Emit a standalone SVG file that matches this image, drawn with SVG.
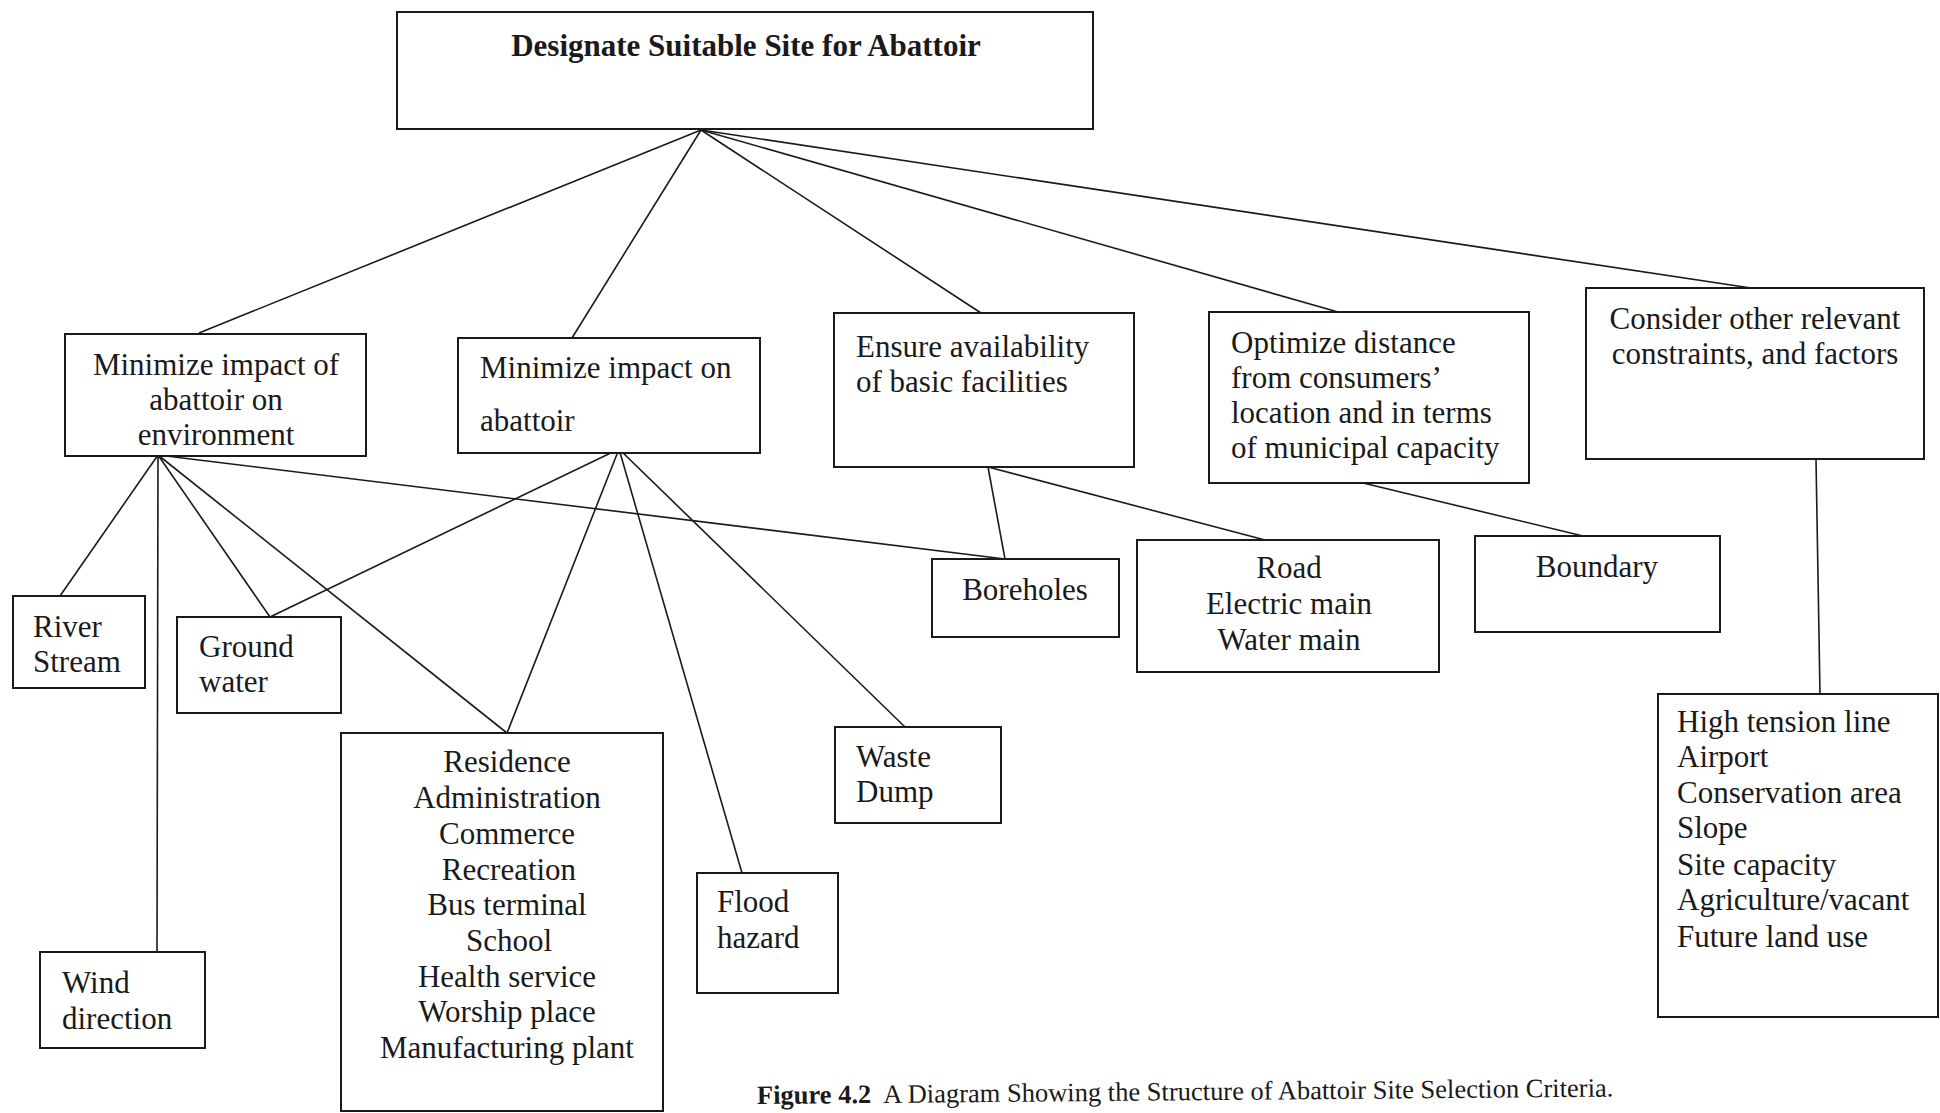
<svg xmlns="http://www.w3.org/2000/svg" width="1940" height="1113" viewBox="0 0 1940 1113">
<style>
.box{fill:#fff;stroke:#1a1a1a;stroke-width:2}
.t{font-family:"Liberation Serif","Times New Roman",serif;font-size:31px;fill:#1a1a1a}
.m{text-anchor:middle}
.c{stroke:#1a1a1a;stroke-width:1.6;fill:none}
.cap{font-family:"Liberation Serif","Times New Roman",serif;font-size:26.5px;fill:#1a1a1a}
</style>
<rect width="1940" height="1113" fill="#fff"/>
<g id="connectors">
<line class="c" x1="701" y1="130" x2="199" y2="333"/>
<line class="c" x1="701" y1="130" x2="572" y2="338"/>
<line class="c" x1="701" y1="130" x2="981" y2="313"/>
<line class="c" x1="701" y1="130" x2="1338" y2="312"/>
<line class="c" x1="701" y1="130" x2="1751" y2="288"/>
<line class="c" x1="158" y1="455" x2="60" y2="596"/>
<line class="c" x1="158" y1="455" x2="157" y2="952"/>
<line class="c" x1="158" y1="455" x2="270" y2="617"/>
<line class="c" x1="158" y1="455" x2="507" y2="733"/>
<line class="c" x1="158" y1="455" x2="1005" y2="559"/>
<line class="c" x1="619" y1="449" x2="270" y2="617"/>
<line class="c" x1="619" y1="449" x2="507" y2="733"/>
<line class="c" x1="619" y1="449" x2="742" y2="873"/>
<line class="c" x1="619" y1="449" x2="905" y2="727"/>
<line class="c" x1="988" y1="467" x2="1005" y2="559"/>
<line class="c" x1="988" y1="467" x2="1265" y2="540"/>
<line class="c" x1="1363" y1="483" x2="1583" y2="536"/>
<line class="c" x1="1816" y1="459" x2="1820" y2="694"/>
</g>
<g id="root">
<rect class="box" x="397" y="12" width="696" height="117"/>
<text class="t m" x="746" y="56" style="font-weight:bold">Designate Suitable Site for Abattoir</text>
</g>
<g id="env">
<rect class="box" x="65" y="334" width="301" height="122"/>
<text class="t m" x="216" y="375">Minimize impact of</text>
<text class="t m" x="216" y="410">abattoir on</text>
<text class="t m" x="216" y="445">environment</text>
</g>
<g id="onabattoir">
<rect class="box" x="458" y="338" width="302" height="115"/>
<text class="t" x="480" y="378">Minimize impact on</text>
<text class="t" x="480" y="431">abattoir</text>
</g>
<g id="facilities">
<rect class="box" x="834" y="313" width="300" height="154"/>
<text class="t" x="856" y="357">Ensure availability</text>
<text class="t" x="856" y="392">of basic facilities</text>
</g>
<g id="distance">
<rect class="box" x="1209" y="312" width="320" height="171"/>
<text class="t" x="1231" y="353">Optimize distance</text>
<text class="t" x="1231" y="388">from consumers’</text>
<text class="t" x="1231" y="423">location and in terms</text>
<text class="t" x="1231" y="458">of municipal capacity</text>
</g>
<g id="other">
<rect class="box" x="1586" y="288" width="338" height="171"/>
<text class="t m" x="1755" y="329">Consider other relevant</text>
<text class="t m" x="1755" y="364">constraints, and factors</text>
</g>
<g id="river">
<rect class="box" x="13" y="596" width="132" height="92"/>
<text class="t" x="33" y="637">River</text>
<text class="t" x="33" y="672">Stream</text>
</g>
<g id="ground">
<rect class="box" x="177" y="617" width="164" height="96"/>
<text class="t" x="199" y="657">Ground</text>
<text class="t" x="199" y="692">water</text>
</g>
<g id="wind">
<rect class="box" x="40" y="952" width="165" height="96"/>
<text class="t" x="62" y="993">Wind</text>
<text class="t" x="62" y="1029">direction</text>
</g>
<g id="landuse">
<rect class="box" x="341" y="733" width="322" height="378"/>
<text class="t m" x="507" y="772">Residence</text>
<text class="t m" x="507" y="808">Administration</text>
<text class="t m" x="507" y="844">Commerce</text>
<text class="t m" x="509" y="880">Recreation</text>
<text class="t m" x="507" y="915">Bus terminal</text>
<text class="t m" x="509" y="951">School</text>
<text class="t m" x="507" y="987">Health service</text>
<text class="t m" x="507" y="1022">Worship place</text>
<text class="t m" x="507" y="1058">Manufacturing plant</text>
</g>
<g id="flood">
<rect class="box" x="697" y="873" width="141" height="120"/>
<text class="t" x="717" y="912">Flood</text>
<text class="t" x="717" y="948">hazard</text>
</g>
<g id="waste">
<rect class="box" x="835" y="727" width="166" height="96"/>
<text class="t" x="856" y="767">Waste</text>
<text class="t" x="856" y="802">Dump</text>
</g>
<g id="boreholes">
<rect class="box" x="932" y="559" width="187" height="78"/>
<text class="t m" x="1025" y="600">Boreholes</text>
</g>
<g id="utilities">
<rect class="box" x="1137" y="540" width="302" height="132"/>
<text class="t m" x="1289" y="578">Road</text>
<text class="t m" x="1289" y="614">Electric main</text>
<text class="t m" x="1289" y="650">Water main</text>
</g>
<g id="boundary">
<rect class="box" x="1475" y="536" width="245" height="96"/>
<text class="t m" x="1597" y="577">Boundary</text>
</g>
<g id="constraints">
<rect class="box" x="1658" y="694" width="280" height="323"/>
<text class="t" x="1677" y="732">High tension line</text>
<text class="t" x="1677" y="767">Airport</text>
<text class="t" x="1677" y="803">Conservation area</text>
<text class="t" x="1677" y="838">Slope</text>
<text class="t" x="1677" y="875">Site capacity</text>
<text class="t" x="1677" y="910">Agriculture/vacant</text>
<text class="t" x="1677" y="947">Future land use</text>
</g>
<text class="cap" x="757" y="1104" transform="rotate(-0.5 757 1104)"><tspan font-weight="bold">Figure 4.2</tspan><tspan dx="12">A Diagram Showing the Structure of Abattoir Site Selection Criteria.</tspan></text>
</svg>
